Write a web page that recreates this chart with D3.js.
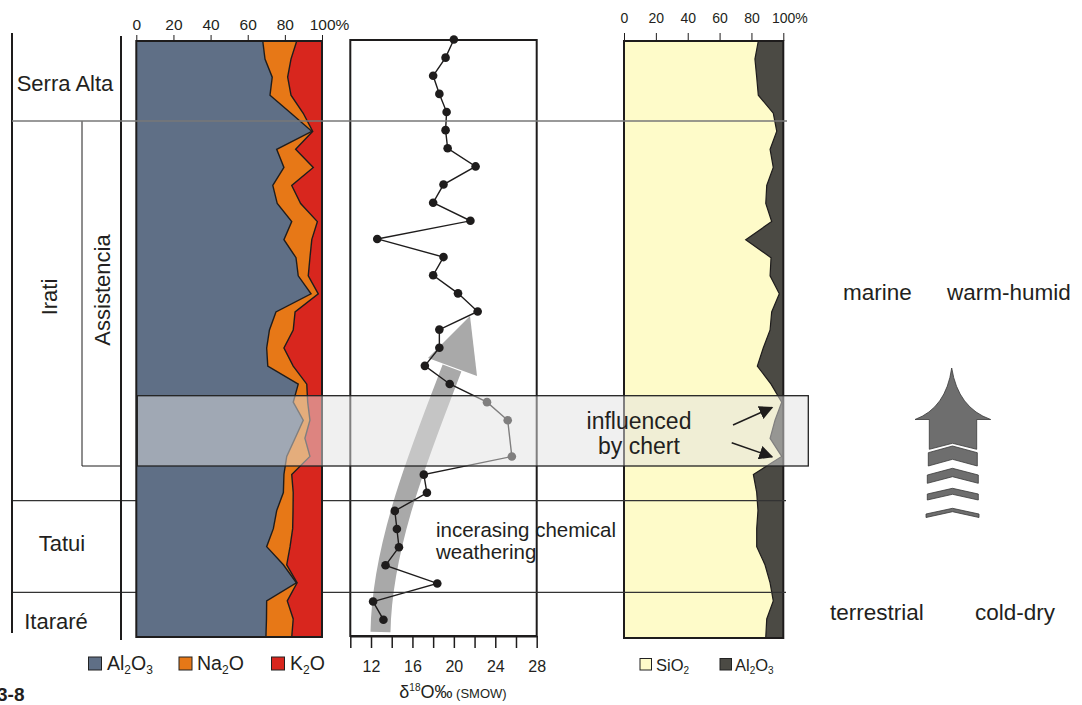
<!DOCTYPE html>
<html><head><meta charset="utf-8">
<script src="https://cdn.jsdelivr.net/npm/d3@7"></script>
<style>
body{margin:0;background:#fff}
text{font-family:"Liberation Sans",Arial,sans-serif;fill:#231f20}
</style>
</head><body>
<svg id="c" width="1082" height="705"></svg>
<script>
// ---------- data (sample levels, top = 0) ----------
const samples = d3.range(34);
const al2o3 = [68.1,69.3,73.2,72.0,83.3,94.5,75.6,79.5,73.5,75.9,83.7,79.5,86.0,87.2,94.1,75.2,71.7,70.2,70.8,87.2,84.5,89.9,85.5,81.0,79.5,79.2,75.6,73.8,70.2,79.2,86.2,70.2,70.1,69.8];
const na2o  = [18.3,14.0,8.3,11.3,6.6,0.5,10.2,15.8,10.2,12.6,13.8,15.0,7.5,5.4,3.9,10.3,12.8,9.3,13.7,4.6,7.8,3.6,5.3,12.5,4.2,5.3,8.8,10.4,12.6,1.8,0.4,11.1,14.4,13.9];
const k2o   = [13.6,16.7,18.5,16.7,10.1,5.0,14.2,4.7,16.3,11.5,2.5,5.5,6.5,7.4,2.0,14.5,15.5,20.5,15.5,8.2,7.7,6.5,9.2,6.5,16.3,15.5,15.6,15.8,17.2,19.0,13.4,18.7,15.5,16.3];
const sio2  = [84.3,82.2,83.3,84.3,93.7,95.9,91.7,93.7,89.6,89.0,92.7,76.4,92.3,91.7,97.5,92.7,91.7,87.4,83.7,92.3,99.0,94.8,91.7,99.0,81.2,83.3,84.1,83.3,83.3,88.5,91.7,93.7,89.6,89.0];
const al2o3R= [15.7,17.8,16.7,15.7,6.3,4.1,8.3,6.3,10.4,11.0,7.3,23.6,7.7,8.3,2.5,7.3,8.3,12.6,16.3,7.7,1.0,5.2,8.3,1.0,18.8,16.7,15.9,16.7,16.7,11.5,8.3,6.3,10.4,11.0];
const d18O  = [20.0,19.2,18.0,18.6,19.3,19.2,19.4,22.1,19.0,18.0,21.6,12.6,19.0,18.0,20.4,22.3,18.6,18.6,17.2,19.6,23.2,25.2,null,25.6,17.1,17.4,14.3,14.5,14.7,13.4,18.4,12.2,13.2];
const pctTicks = [0,20,40,60,80,100];
const d18Ticks = [10,12,14,16,18,20,22,24,26,28];
const d18Labels = [12,16,20,24,28];
const units = ["Serra Alta","Irati","Tatui","Itararé"];
const member = "Assistencia";

// ---------- setup ----------
const svg = d3.select("#c");
const C = {slate:"#5f6f86", orange:"#e77817", red:"#d8261e", yellow:"#fefbc9", dark:"#4b4a44", ink:"#1e1c1c"};
const xL = d3.scaleLinear().domain([0,100]).range([136.3,322]);
const xM = d3.scaleLinear().domain([10,28]).range([350.3,536.7]);
const xR = d3.scaleLinear().domain([0,100]).range([624,783.3]);
const y  = d3.scaleLinear().domain([0,33]).range([41,637]);
const yP = d3.scaleLinear().domain([0,32]).range([39.5,619.7]);

const table = samples.map(i => ({i, al:al2o3[i], na:na2o[i], k:k2o[i], si:sio2[i], alr:al2o3R[i]}));

// ---------- middle panel ----------
const gM = svg.append("g");
gM.append("rect").attr("x",xM(10)).attr("y",40).attr("width",xM(28)-xM(10)).attr("height",596)
  .attr("fill","#fff").attr("stroke",C.ink).attr("stroke-width",2);
const axM = gM.append("g").attr("transform","translate(0,636)")
  .call(d3.axisBottom(xM).tickValues(d18Ticks).tickSize(12).tickSizeOuter(0)
    .tickFormat(d => d18Labels.includes(d) ? d : ""));
axM.select(".domain").attr("stroke",C.ink).attr("stroke-width",2);
axM.selectAll(".tick line").attr("stroke",C.ink).attr("stroke-width",1.5);
axM.selectAll(".tick text").filter(d => !d18Labels.includes(d)).remove();
axM.selectAll(".tick text").attr("y",36).attr("dy",0).style("font-size","16px").attr("fill","#231f20");

// curved gray arrow
gM.append("path").attr("d","M380.5,632 C382,540 425,440 452,368")
  .attr("fill","none").attr("stroke","#a9a9a9").attr("stroke-width",20);
gM.append("path").attr("d","M470,316 L428,358 L477,376 Z").attr("fill","#a9a9a9");

// d18O line + points
const pts = d18O.map((v,i)=>({i,v})).filter(d=>d.v!==null);
gM.append("path").datum(pts)
  .attr("d", d3.line().x(d=>xM(d.v)).y(d=>yP(d.i)))
  .attr("fill","none").attr("stroke",C.ink).attr("stroke-width",1.4);
gM.selectAll("circle.p").data(pts).join("circle").attr("class","p")
  .attr("cx",d=>xM(d.v)).attr("cy",d=>yP(d.i)).attr("r",4.3).attr("fill",C.ink);

// ---------- right panel ----------
const gR = svg.append("g");
const stackR = d3.stack().keys(["si","alr"])(table);
const areaR = d3.area().y(d=>y(d.data.i)).x0(d=>xR(d[0])).x1(d=>xR(d[1]));
gR.selectAll("path.r").data(stackR).join("path").attr("class","r")
  .attr("d",areaR).attr("fill",(d,j)=>[C.yellow,C.dark][j]);
gR.append("path").datum(stackR[0])
  .attr("d", d3.line().x(d=>xR(d[1])).y(d=>y(d.data.i)))
  .attr("fill","none").attr("stroke",C.ink).attr("stroke-width",1.2);
gR.append("rect").attr("x",xR(0)).attr("y",41).attr("width",xR(100)-xR(0)).attr("height",597)
  .attr("fill","none").attr("stroke",C.ink).attr("stroke-width",2);
const axR = gR.append("g").attr("transform","translate(0,41)")
  .call(d3.axisTop(xR).tickValues(pctTicks).tickSize(8).tickPadding(10).tickSizeOuter(0)
    .tickFormat(d => d===100 ? "100%" : d));
axR.select(".domain").attr("stroke",C.ink);
axR.selectAll(".tick line").attr("stroke",C.ink);
axR.selectAll("text").style("font-size","14px").attr("fill","#231f20")
  .attr("dx", d => d===100 ? "6px" : 0);

// ---------- formation boundary lines (below left panel) ----------
const gLines = svg.append("g");
[500.7,592.3].forEach(v=>{
  gLines.append("line").attr("x1",12).attr("x2",786).attr("y1",v).attr("y2",v)
    .attr("stroke","#333").attr("stroke-width",1.2);
});

// ---------- left panel ----------
const gL = svg.append("g");
const stackL = d3.stack().keys(["al","na","k"])(table);
const areaL = d3.area().y(d=>y(d.data.i)).x0(d=>xL(d[0])).x1(d=>xL(d[1]));
gL.selectAll("path.l").data(stackL).join("path").attr("class","l")
  .attr("d",areaL).attr("fill",(d,j)=>[C.slate,C.orange,C.red][j]);
[0,1].forEach(j=>{
  gL.append("path").datum(stackL[j])
    .attr("d", d3.line().x(d=>xL(d[1])).y(d=>y(d.data.i)))
    .attr("fill","none").attr("stroke",C.ink).attr("stroke-width",1.4);
});
gL.append("rect").attr("x",xL(0)).attr("y",41).attr("width",xL(100)-xL(0)).attr("height",596)
  .attr("fill","none").attr("stroke",C.ink).attr("stroke-width",2);
const axL = gL.append("g").attr("transform","translate(0,41)")
  .call(d3.axisTop(xL).tickValues(pctTicks).tickSize(6).tickPadding(5).tickSizeOuter(0)
    .tickFormat(d => d===100 ? "100%" : d));
axL.select(".domain").attr("stroke",C.ink);
axL.selectAll(".tick line").attr("stroke",C.ink);
axL.selectAll("text").style("font-size","15.5px").attr("fill","#231f20")
  .attr("dx", d => d===100 ? "7px" : 0);

// ---------- stratigraphic column ----------
const gS = svg.append("g");
gS.append("line").attr("x1",12).attr("x2",12).attr("y1",33).attr("y2",633).attr("stroke",C.ink).attr("stroke-width",2);
gS.append("line").attr("x1",121).attr("x2",121).attr("y1",36).attr("y2",640).attr("stroke",C.ink).attr("stroke-width",2);
gS.append("path").attr("d","M82,121 V466 H121").attr("fill","none").attr("stroke",C.ink).attr("stroke-width",1);
gS.append("line").attr("x1",12).attr("x2",787).attr("y1",121).attr("y2",121).attr("stroke","#777").attr("stroke-width",1.6);
const unitPos = [[65,91],[null,null],[62,551],[56,629]];
units.forEach((u,k)=>{
  if(k===1){
    gS.append("text").attr("transform","translate(57,297) rotate(-90)").attr("text-anchor","middle")
      .style("font-size","22px").text(u);
  } else {
    gS.append("text").attr("x",unitPos[k][0]).attr("y",unitPos[k][1]).attr("text-anchor","middle")
      .style("font-size","22px").text(u);
  }
});
gS.append("text").attr("transform","translate(110,290) rotate(-90)").attr("text-anchor","middle")
  .style("font-size","22px").text(member);

// ---------- chert overlay box ----------
svg.append("rect").attr("x",137.3).attr("y",395.7).attr("width",671).attr("height",70.3)
  .attr("fill","rgb(225,225,225)").attr("fill-opacity",0.5).attr("stroke","#222").attr("stroke-width",1.3);

// ---------- annotations ----------
const defs = svg.append("defs");
defs.append("marker").attr("id","ah").attr("viewBox","0 0 10 10").attr("refX",9).attr("refY",5)
  .attr("markerWidth",14).attr("markerHeight",14).attr("orient","auto").attr("markerUnits","userSpaceOnUse")
  .append("path").attr("d","M0,0 L10,5 L0,10 Z").attr("fill",C.ink);
svg.append("line").attr("x1",733).attr("y1",425).attr("x2",772).attr("y2",407.5)
  .attr("stroke",C.ink).attr("stroke-width",1.5).attr("marker-end","url(#ah)");
svg.append("line").attr("x1",731.7).attr("y1",442.7).attr("x2",772).attr("y2",456.7)
  .attr("stroke",C.ink).attr("stroke-width",1.5).attr("marker-end","url(#ah)");
svg.append("text").attr("x",639).attr("y",428.5).attr("text-anchor","middle").style("font-size","23px").text("influenced");
svg.append("text").attr("x",639).attr("y",454).attr("text-anchor","middle").style("font-size","23px").text("by chert");
svg.append("text").attr("x",436).attr("y",536.7).style("font-size","20.5px").text("incerasing chemical");
svg.append("text").attr("x",436).attr("y",559.3).style("font-size","20.5px").text("weathering");

svg.append("text").attr("x",843).attr("y",300).style("font-size","22.5px").text("marine");
svg.append("text").attr("x",947).attr("y",300).style("font-size","22.5px").text("warm-humid");
svg.append("text").attr("x",830).attr("y",620).style("font-size","22.5px").text("terrestrial");
svg.append("text").attr("x",975).attr("y",620).style("font-size","22.5px").text("cold-dry");

// big climate arrow
const gA = svg.append("g").attr("fill","#6e6e6e").attr("stroke","#3a3a3a").attr("stroke-width",0.8);
gA.append("path").attr("d","M951.7,368 Q946,408 915,419.5 L929.3,419.5 L929.3,449.3 L952.5,443.3 L976.7,449.3 L976.7,419.5 L990.7,419.5 Q958,408 951.7,368 Z");
[[452.7,446,466,459.3,928.3,977.3],[475,468.3,483.3,476.7,927.3,978.3],[494,488.3,500,494.3,927.3,978.3],[514,508.3,517.5,511.7,926,979]]
  .forEach(([ts,tm,bs,bm,xl,xr])=>{
    gA.append("path").attr("d",`M${xl},${ts} L952.5,${tm} L${xr},${ts} L${xr},${bs} L952.5,${bm} L${xl},${bs} Z`);
  });

// ---------- legends ----------
function chem(g, x, yb, parts, fs, sfs){
  const t = g.append("text").attr("x",x).attr("y",yb).style("font-size",fs+"px");
  let shifted = false;
  parts.forEach(p=>{
    const s = t.append("tspan").text(p.t);
    if(p.sub){ s.attr("dy", shifted ? 0 : fs*0.22).style("font-size",sfs+"px"); shifted = true; }
    else { if(shifted){ s.attr("dy",-fs*0.22); shifted = false; } }
  });
  return t;
}
const lg = svg.append("g");
const legL = [
  {c:C.slate, x:88.5, tx:107, parts:[{t:"Al"},{t:"2",sub:1},{t:"O"},{t:"3",sub:1}]},
  {c:C.orange, x:179, tx:197, parts:[{t:"Na"},{t:"2",sub:1},{t:"O"}]},
  {c:C.red, x:271.5, tx:290, parts:[{t:"K"},{t:"2",sub:1},{t:"O"}]}
];
legL.forEach(d=>{
  lg.append("rect").attr("x",d.x).attr("y",657).attr("width",13).attr("height",13)
    .attr("fill",d.c).attr("stroke","#222").attr("stroke-width",1);
  chem(lg,d.tx,670,d.parts,19.5,12);
});
const legR = [
  {c:C.yellow, x:640, tx:656, parts:[{t:"SiO"},{t:"2",sub:1}]},
  {c:C.dark, x:720, tx:735, parts:[{t:"Al"},{t:"2",sub:1},{t:"O"},{t:"3",sub:1}]}
];
legR.forEach(d=>{
  lg.append("rect").attr("x",d.x).attr("y",658.5).attr("width",11.5).attr("height",11.5)
    .attr("fill",d.c).attr("stroke","#222").attr("stroke-width",1);
  chem(lg,d.tx,670.5,d.parts,16.5,10);
});

// axis title
const at = svg.append("text").attr("x",453).attr("y",698).attr("text-anchor","middle").style("font-size","18px");
at.append("tspan").text("δ");
at.append("tspan").attr("dy",-7).style("font-size","10px").text("18");
at.append("tspan").attr("dy",7).text("O‰");
at.append("tspan").style("font-size","13px").text(" (SMOW)");

svg.append("text").attr("x",-3).attr("y",701).style("font-size","19px").style("font-weight","bold").text("3-8");
</script>
</body></html>
